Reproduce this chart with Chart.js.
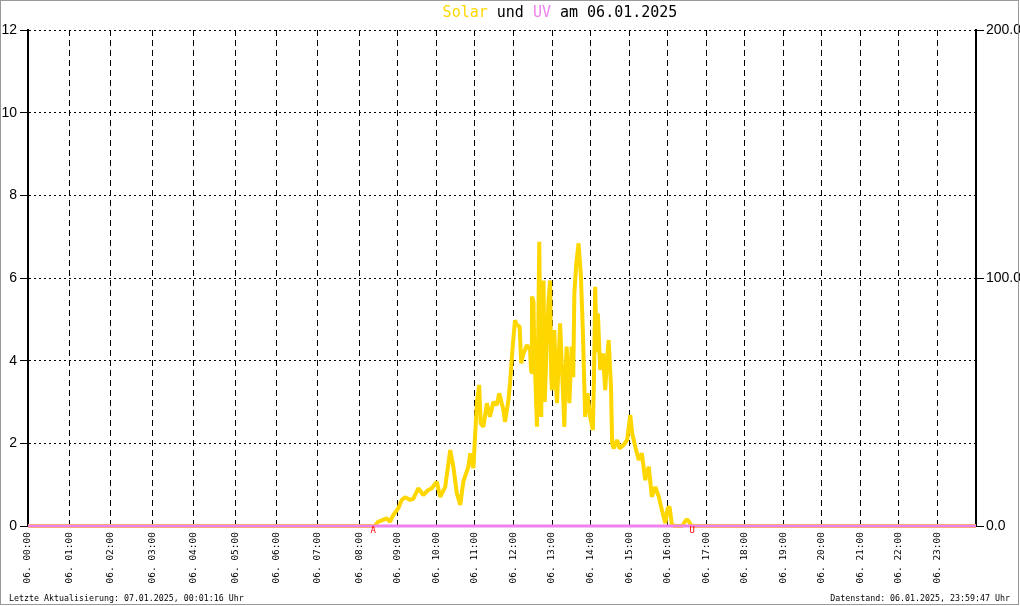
<!DOCTYPE html>
<html>
<head>
<meta charset="utf-8">
<script src="https://cdn.jsdelivr.net/npm/chart.js@4.4.1/dist/chart.umd.min.js"></script>
<style>
  body { margin: 0; background: #fff; }
  canvas { display: block; }
</style>
</head>
<body>
<canvas id="chart" width="1020" height="606"></canvas>
<script>
// Data: solar radiation (W/m², right axis) and UV index (left axis) over the day
const solarHours = [0, 8.40, 8.49, 8.71, 8.80, 8.88, 9.01, 9.10, 9.19, 9.32, 9.40, 9.53, 9.66, 9.79, 9.88,
  10.01, 10.10, 10.23, 10.36, 10.44, 10.53, 10.62, 10.70, 10.83, 10.88, 10.96, 11.05, 11.11, 11.15,
  11.22, 11.31, 11.39, 11.48, 11.57, 11.63, 11.74, 11.78, 11.87, 11.91, 11.98, 12.04, 12.09, 12.16,
  12.20, 12.26, 12.35, 12.43, 12.46, 12.48, 12.52, 12.54, 12.56, 12.61, 12.64, 12.67, 12.70, 12.72,
  12.75, 12.78, 12.81, 12.84, 12.88, 12.91, 12.95, 12.98, 13.00, 13.03, 13.06, 13.10, 13.13, 13.17,
  13.21, 13.26, 13.29, 13.32, 13.35, 13.38, 13.42, 13.45, 13.51, 13.55, 13.58, 13.63, 13.69, 13.75,
  13.80, 13.86, 13.92, 13.99, 14.06, 14.09, 14.12, 14.16, 14.19, 14.25, 14.32, 14.38, 14.43, 14.47,
  14.53, 14.56, 14.60, 14.69, 14.75, 14.86, 14.95, 15.03, 15.08, 15.16, 15.25, 15.33, 15.42, 15.51,
  15.59, 15.68, 15.77, 15.85, 15.94, 16.00, 16.05, 16.11, 16.20, 16.38, 16.45, 16.50, 16.56, 16.62, 24];
const solarValues = [0, 0, 1.7, 3.1, 1.7, 4.4, 7.1, 10.5, 11.6, 10.5, 10.9, 15.2, 12.5, 14.5, 15.2,
  17.9, 11.8, 15.8, 30.6, 23.9, 13.2, 8.5, 17.9, 23.9, 29.3, 23.3, 49.5, 56.9, 41.4,
  40.0, 49.5, 44.0, 50.0, 48.8, 53.5, 46.8, 42.0, 50.8, 57.5, 72.3, 83.0, 81.0, 80.4,
  65.6, 69.6, 73.0, 71.0, 62.0, 92.5, 90.4, 70.0, 62.9, 40.0, 75.0, 114.6, 60.0, 44.0,
  85.0, 99.0, 50.0, 62.9, 80.0, 91.0, 99.0, 60.0, 54.8, 70.0, 79.0, 58.0, 49.5, 66.0,
  81.7, 62.9, 52.0, 40.0, 60.0, 72.3, 58.0, 49.5, 72.3, 60.0, 93.8, 105.9, 114.0, 100.5,
  79.0, 44.0, 53.5, 44.0, 38.7, 60.0, 96.5, 70.0, 85.8, 62.9, 69.6, 54.8, 68.0, 75.0,
  56.2, 33.3, 31.3, 34.7, 31.3, 32.7, 34.7, 44.8, 37.4, 32.0, 26.6, 29.3, 18.5, 23.9,
  11.8, 15.8, 11.8, 6.5, 1.1, 7.1, 7.8, 0.4, 0, 0, 1.8, 2.7, 1.6, 0, 0];
const uvHours = [0, 24];
const uvValues = [0, 0];

const hourLabels = ['06. 00:00', '06. 01:00', '06. 02:00', '06. 03:00', '06. 04:00', '06. 05:00',
  '06. 06:00', '06. 07:00', '06. 08:00', '06. 09:00', '06. 10:00', '06. 11:00', '06. 12:00',
  '06. 13:00', '06. 14:00', '06. 15:00', '06. 16:00', '06. 17:00', '06. 18:00', '06. 19:00',
  '06. 20:00', '06. 21:00', '06. 22:00', '06. 23:00'];

// sunrise (A) and sunset (U) marks
const markLabels = ['A', 'U'];
const markHours = [8.36, 16.64];

const titleParts = [['Solar', '#ffd700'], [' und ', '#000'], ['UV', '#ee82ee'], [' am 06.01.2025', '#000']];
const footerLeft = 'Letzte Aktualisierung: 07.01.2025, 00:01:16 Uhr';
const footerRight = 'Datenstand: 06.01.2025, 23:59:47 Uhr';

// the original time axis is a bit wider before 08:00 than after it
const split = 8.387;
function bend(v) {
    return v <= 8 ? v * split / 8 : split + (v - 8) * (24 - split) / 16;
}
function unbend(u) {
    return u <= split ? u * 8 / split : 8 + (u - split) * 16 / (24 - split);
}

class HourScale extends Chart.LinearScale {
    getPixelForValue(value) {
        return super.getPixelForValue(bend(value));
    }
    getValueForPixel(pixel) {
        return unbend(super.getValueForPixel(pixel));
    }
}
HourScale.id = 'hours';
HourScale.defaults = Chart.LinearScale.defaults;
Chart.register(HourScale);

const mono = "'DejaVu Sans Mono', monospace";

//Draw title, footer texts, sun marks and frame
const decoPlugin = {
    id: 'deco',
    afterDatasetsDraw(chart) {
        const c = chart.ctx;
        const xs = chart.scales.x;
        c.save();
        c.font = '9px ' + mono;
        c.fillStyle = '#ff0000';
        c.textAlign = 'center';
        c.textBaseline = 'middle';
        markLabels.forEach((m, i) => {
            c.fillText(m, xs.getPixelForValue(markHours[i]), 531);
        });
        c.restore();
    },
    afterDraw(chart) {
        const c = chart.ctx;
        c.save();
        c.font = '15px ' + mono;
        c.textBaseline = 'middle';
        c.textAlign = 'left';
        const full = titleParts.map(p => p[0]).join('');
        let x = 560 - c.measureText(full).width / 2;
        titleParts.forEach(p => {
            c.fillStyle = p[1];
            c.fillText(p[0], x, 13);
            x += c.measureText(p[0]).width;
        });
        c.font = '8.3px ' + mono;
        c.fillStyle = '#000';
        c.fillText(footerLeft, 9, 599);
        c.textAlign = 'right';
        c.fillText(footerRight, 1010, 599);
        c.strokeStyle = '#999';
        c.lineWidth = 1;
        c.strokeRect(0.5, 0.5, 1018, 604);
        c.restore();
    }
};

const ctx = document.getElementById('chart').getContext('2d');

new Chart(ctx, {
    type: 'line',
    data: {
        datasets: [{
            label: 'UV',
            data: uvHours.map((h, i) => ({ x: h, y: uvValues[i] })),
            borderColor: '#ee82ee',
            borderWidth: 3,
            pointRadius: 0,
            clip: false,
            yAxisID: 'y'
        }, {
            label: 'Solar',
            data: solarHours.map((h, i) => ({ x: h, y: solarValues[i] })),
            borderColor: '#ffd700',
            borderWidth: 4,
            borderJoinStyle: 'bevel',
            pointRadius: 0,
            tension: 0,
            clip: false,
            yAxisID: 'y2'
        }]
    },
    options: {
        responsive: false,
        animation: false,
        layout: { padding: { top: 30, left: 0, right: 0, bottom: 0 } },
        plugins: {
            legend: { display: false },
            tooltip: { enabled: false }
        },
        scales: {
            x: {
                type: 'hours',
                position: 'bottom',
                min: 0,
                max: 24,
                ticks: {
                    stepSize: 1,
                    autoSkip: false,
                    maxRotation: 90,
                    minRotation: 90,
                    padding: 6,
                    color: '#000',
                    font: { family: mono, size: 9.5 },
                    callback: v => hourLabels[v] || ''
                },
                grid: { color: '#000', lineWidth: 1, drawTicks: false },
                border: { display: false, dash: [6, 4] },
                afterFit: s => { s.height = 80; }
            },
            y: {
                position: 'left',
                min: 0,
                max: 12,
                ticks: {
                    stepSize: 2,
                    padding: 3,
                    color: '#000',
                    font: { family: "'Liberation Sans', sans-serif", size: 14 }
                },
                grid: { color: '#000', lineWidth: 1, tickLength: 8, tickColor: '#000' },
                border: { display: true, color: '#000', width: 2, dash: [2, 3] },
                afterFit: s => { s.width = 28; }
            },
            y2: {
                position: 'right',
                min: 0,
                max: 200,
                ticks: {
                    stepSize: 100,
                    padding: 2,
                    color: '#000',
                    font: { family: "'Liberation Sans', sans-serif", size: 14 },
                    callback: v => v.toFixed(1)
                },
                grid: { drawOnChartArea: false, color: '#000', tickLength: 8 },
                border: { display: true, color: '#000', width: 2 },
                afterFit: s => { s.width = 44; }
            }
        }
    },
    plugins: [decoPlugin]
});
</script>
</body>
</html>
